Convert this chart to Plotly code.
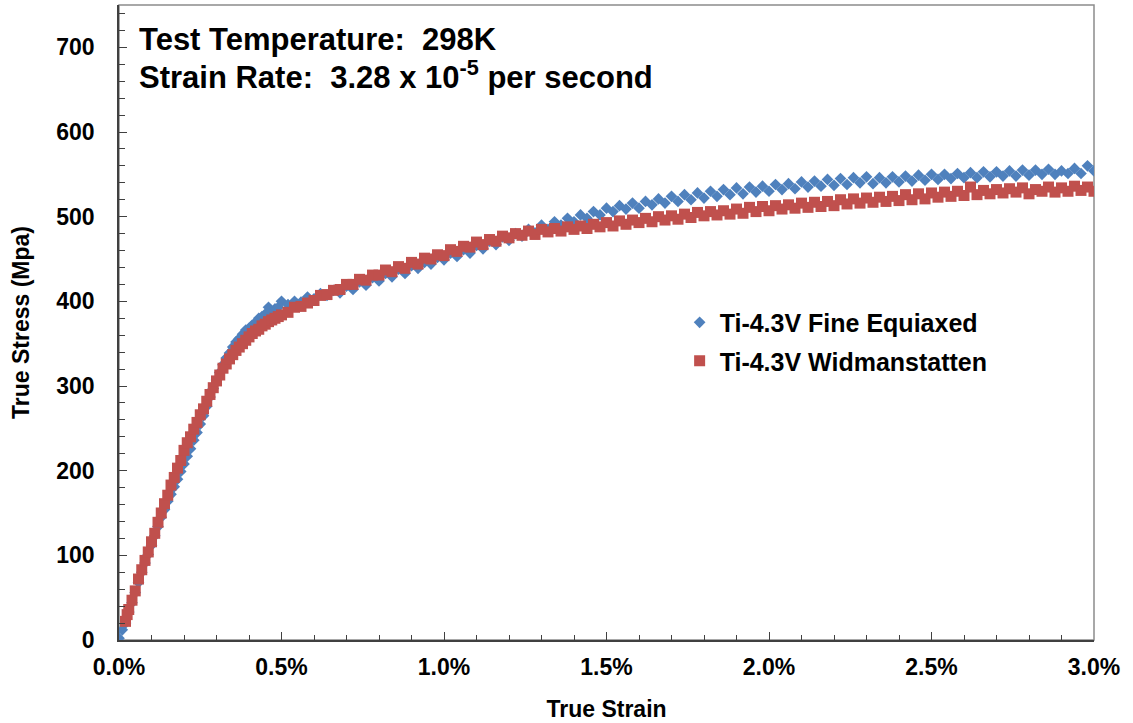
import plotly.graph_objects as go

# True strain in percent, true stress in MPa
red_strain = [0.020, 0.025, 0.03, 0.04, 0.05, 0.06, 0.07, 0.08, 0.09, 0.10,
              0.11, 0.12, 0.13, 0.14, 0.15, 0.16, 0.17, 0.18, 0.19, 0.20,
              0.21, 0.22, 0.23, 0.24, 0.25, 0.26, 0.27, 0.28, 0.29, 0.30,
              0.31, 0.32, 0.33, 0.34, 0.35, 0.36, 0.37, 0.38, 0.39, 0.40,
              0.41, 0.42, 0.43, 0.44, 0.45, 0.46, 0.47, 0.48, 0.49, 0.50,
              0.52, 0.54, 0.56, 0.58, 0.60, 0.62, 0.64, 0.66, 0.68, 0.70,
              0.72, 0.74, 0.76, 0.78, 0.80, 0.82, 0.84, 0.86, 0.88, 0.90,
              0.92, 0.94, 0.96, 0.98, 1.00, 1.02, 1.04, 1.06, 1.08, 1.10,
              1.12, 1.14, 1.16, 1.18, 1.20, 1.22, 1.24, 1.26, 1.28, 1.30,
              1.32, 1.34, 1.36, 1.38, 1.40, 1.42, 1.44, 1.46, 1.48, 1.50,
              1.52, 1.54, 1.56, 1.58, 1.60, 1.62, 1.64, 1.66, 1.68, 1.70,
              1.72, 1.74, 1.76, 1.78, 1.80, 1.82, 1.84, 1.86, 1.88, 1.90,
              1.92, 1.94, 1.96, 1.98, 2.00, 2.02, 2.04, 2.06, 2.08, 2.10,
              2.12, 2.14, 2.16, 2.18, 2.20, 2.22, 2.24, 2.26, 2.28, 2.30,
              2.32, 2.34, 2.36, 2.38, 2.40, 2.42, 2.44, 2.46, 2.48, 2.50,
              2.52, 2.54, 2.56, 2.58, 2.60, 2.62, 2.64, 2.66, 2.68, 2.70,
              2.72, 2.74, 2.76, 2.78, 2.80, 2.82, 2.84, 2.86, 2.88, 2.90,
              2.92, 2.94, 2.96, 2.98, 3.00]
red_stress = [22, 30, 36, 47, 58, 72, 83, 94, 104, 116,
              126, 139, 150, 161, 171, 183, 192, 203, 212, 224,
              233, 240, 249, 257, 266, 273, 282, 290, 298, 306,
              313, 321, 326, 332, 337, 342, 346, 350, 354, 358,
              362, 365, 367, 371, 373, 376, 378, 380, 382, 384,
              387, 393, 394, 398, 401, 407, 408, 413, 414, 420,
              420, 426, 425, 431, 431, 437, 435, 441, 439, 446,
              444, 451, 450, 455, 454, 461, 459, 465, 464, 470,
              467, 473, 471, 477, 475, 480, 478, 483, 479, 485,
              482, 486, 483, 488, 485, 489, 486, 491, 488, 493,
              489, 495, 491, 496, 493, 498, 494, 500, 496, 501,
              497, 503, 499, 505, 501, 506, 502, 507, 503, 509,
              504, 511, 506, 512, 507, 513, 509, 514, 510, 516,
              511, 517, 512, 518, 513, 520, 515, 521, 516, 522,
              517, 523, 518, 524, 519, 526, 520, 527, 521, 528,
              523, 529, 524, 530, 525, 535, 526, 531, 527, 532,
              528, 533, 529, 534, 527, 532, 530, 535, 529, 534,
              530, 536, 531, 535, 530]

blue_strain = [0.00, 0.01, 0.02, 0.03, 0.04, 0.05, 0.06, 0.07, 0.08, 0.09, 0.10,
               0.11, 0.12, 0.13, 0.14, 0.15, 0.16, 0.17, 0.18, 0.19, 0.20,
               0.21, 0.22, 0.23, 0.24, 0.25, 0.26, 0.27, 0.28, 0.29, 0.30,
               0.31, 0.32, 0.33, 0.34, 0.35, 0.36, 0.37, 0.38, 0.39, 0.40,
               0.41, 0.42, 0.43, 0.44, 0.45, 0.46, 0.47, 0.48, 0.49, 0.50,
               0.52, 0.54, 0.56, 0.58, 0.60, 0.62, 0.64, 0.66, 0.68, 0.70,
               0.72, 0.74, 0.76, 0.78, 0.80, 0.82, 0.84, 0.86, 0.88, 0.90,
               0.92, 0.94, 0.96, 0.98, 1.00, 1.02, 1.04, 1.06, 1.08, 1.10,
               1.12, 1.14, 1.16, 1.18, 1.20, 1.22, 1.24, 1.26, 1.28, 1.30,
               1.32, 1.34, 1.36, 1.38, 1.40, 1.42, 1.44, 1.46, 1.48, 1.50,
               1.52, 1.54, 1.56, 1.58, 1.60, 1.62, 1.64, 1.66, 1.68, 1.70,
               1.72, 1.74, 1.76, 1.78, 1.80, 1.82, 1.84, 1.86, 1.88, 1.90,
               1.92, 1.94, 1.96, 1.98, 2.00, 2.02, 2.04, 2.06, 2.08, 2.10,
               2.12, 2.14, 2.16, 2.18, 2.20, 2.22, 2.24, 2.26, 2.28, 2.30,
               2.32, 2.34, 2.36, 2.38, 2.40, 2.42, 2.44, 2.46, 2.48, 2.50,
               2.52, 2.54, 2.56, 2.58, 2.60, 2.62, 2.64, 2.66, 2.68, 2.70,
               2.72, 2.74, 2.76, 2.78, 2.80, 2.82, 2.84, 2.86, 2.88, 2.90,
               2.92, 2.94, 2.96, 2.98, 3.00]
blue_stress = [2, 12, 20, 33, 44, 56, 68, 80, 91, 101, 112,
               123, 134, 145, 154, 164, 172, 181, 190, 199, 208,
               217, 226, 236, 245, 255, 265, 276, 287, 297, 307,
               316, 325, 333, 339, 346, 352, 356, 361, 366, 368,
               372, 375, 380, 382, 385, 393, 388, 391, 393, 400,
               396, 400, 399, 405, 403, 409, 407, 413, 410, 418,
               414, 423, 419, 428, 424, 433, 429, 438, 433, 442,
               439, 446, 444, 452, 449, 457, 453, 461, 457, 466,
               462, 471, 467, 476, 472, 480, 477, 485, 481, 490,
               485, 494, 490, 498, 494, 502, 498, 506, 502, 510,
               506, 513, 509, 516, 510, 518, 514, 521, 516, 524,
               518, 526, 520, 528, 522, 530, 524, 532, 526, 534,
               527, 535, 529, 536, 530, 538, 532, 539, 533, 541,
               535, 542, 536, 544, 537, 545, 538, 546, 540, 547,
               539, 546, 540, 547, 541, 548, 542, 549, 543, 550,
               544, 550, 545, 551, 546, 552, 546, 553, 547, 553,
               548, 554, 548, 555, 549, 555, 550, 556, 550, 554,
               551, 557, 551, 560, 554]

x_tickvals = [0.0, 0.5, 1.0, 1.5, 2.0, 2.5, 3.0]
x_ticktext = ["0.0%", "0.5%", "1.0%", "1.5%", "2.0%", "2.5%", "3.0%"]
y_tickvals = [0, 100, 200, 300, 400, 500, 600, 700]

BLUE = "#4F81BD"
RED = "#C0504D"
FONT = "Liberation Sans, Arial, sans-serif"
AXC = "#404040"

fig = go.Figure()
fig.add_trace(go.Scatter(
    x=blue_strain, y=blue_stress, mode="markers", name="Ti-4.3V Fine Equiaxed",
    legendgroup="a",
    marker=dict(symbol="diamond", size=9, color=BLUE, line=dict(width=0)),
))
fig.add_trace(go.Scatter(
    x=red_strain, y=red_stress, mode="markers", name="Ti-4.3V Widmanstatten",
    legendgroup="b",
    marker=dict(symbol="square", size=11, color=RED, line=dict(width=0)),
))

fig.update_layout(
    width=1133, height=723,
    margin=dict(l=119, r=39, t=5, b=83),
    paper_bgcolor="white", plot_bgcolor="white",
    font=dict(family=FONT, color="black"),
    showlegend=True,
    legend=dict(
        x=0.575, y=0.47, xanchor="left", yanchor="middle",
        bgcolor="rgba(0,0,0,0)",
        font=dict(family=FONT, size=25, color="black", weight="bold"),
        itemwidth=30, tracegroupgap=3,
    ),
    xaxis=dict(
        range=[0, 3.0], tickvals=x_tickvals, ticktext=x_ticktext,
        showgrid=False, zeroline=False,
        showline=True, linecolor=AXC, linewidth=1.5,
        ticks="inside", ticklen=8, tickcolor=AXC, tickwidth=1.2,
        minor=dict(dtick=0.1, ticks="inside", ticklen=5, tickcolor=AXC, tickwidth=1.2),
        tickfont=dict(family=FONT, size=23, color="black", weight="bold"),
        ticklabelstandoff=6,
        title=dict(text="True Strain", standoff=22,
                   font=dict(family=FONT, size=23, color="black", weight="bold")),
    ),
    yaxis=dict(
        range=[0, 750], tickvals=y_tickvals,
        showgrid=False, zeroline=False,
        showline=True, linecolor=AXC, linewidth=1.5,
        ticks="inside", ticklen=8, tickcolor=AXC, tickwidth=1.2,
        minor=dict(dtick=20, ticks="inside", ticklen=6, tickcolor=AXC, tickwidth=1.2),
        tickfont=dict(family=FONT, size=23, color="black", weight="bold"),
        ticklabelstandoff=18,
        title=dict(text="True Stress (Mpa)", standoff=20,
                   font=dict(family=FONT, size=23, color="black", weight="bold")),
    ),
    shapes=[dict(type="rect", xref="paper", yref="paper", x0=0, x1=1, y0=0, y1=1,
                 line=dict(color="#8c8c8c", width=1.5), layer="below")],
    annotations=[
        dict(text="Test Temperature:\u00a0\u00a0298K", xref="paper", yref="paper",
             x=0.0185, y=0.945, xanchor="left", yanchor="middle", showarrow=False,
             font=dict(family=FONT, size=31, color="black", weight="bold")),
        dict(text="Strain Rate:\u00a0\u00a03.28 x 10<sup>-5</sup> per second", xref="paper", yref="paper",
             x=0.0185, y=0.890, xanchor="left", yanchor="middle", showarrow=False,
             font=dict(family=FONT, size=31, color="black", weight="bold")),
    ],
)

fig.write_html("out.html", config={"displayModeBar": False},
               post_script="document.body.style.margin='0';")
